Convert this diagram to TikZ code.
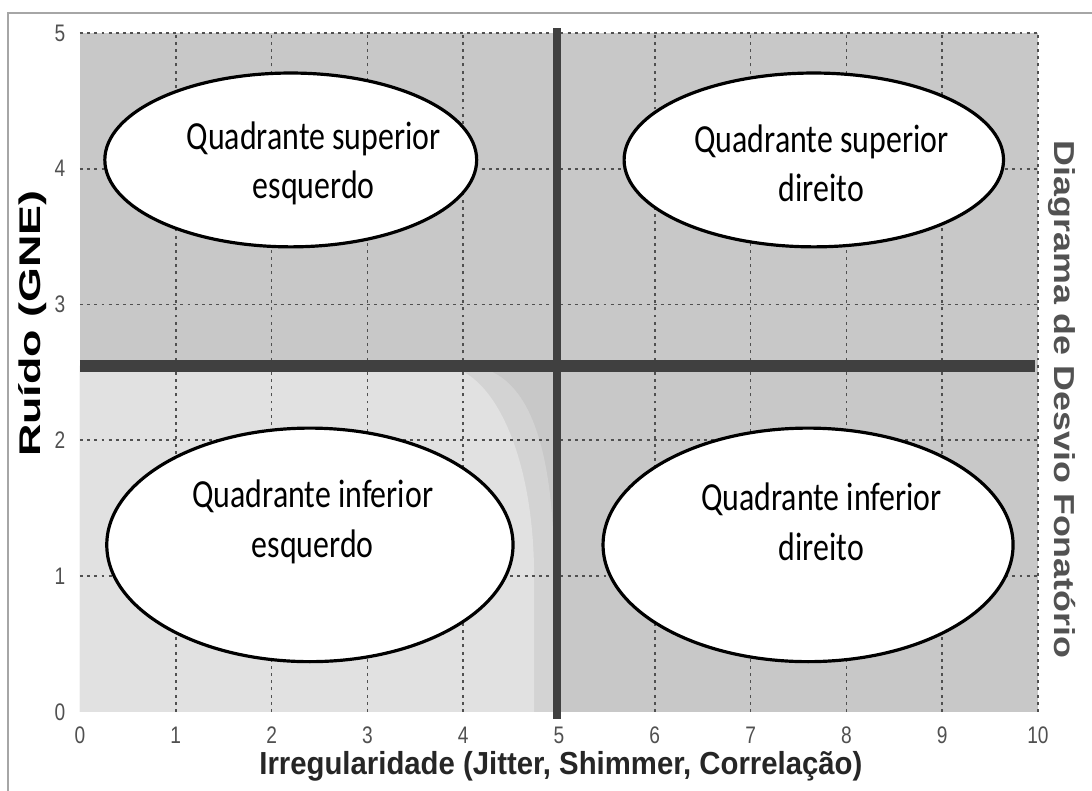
\documentclass[tikz,border=0pt]{standalone}
\usepackage{fontspec}
\setmainfont{Carlito}
\newfontfamily\quadfont[FakeStretch=0.8]{Carlito}
\newfontfamily\tickfont[FakeStretch=0.8]{Liberation Sans}
\newfontfamily\xlabfont[FakeStretch=0.92]{Liberation Sans}
\newfontfamily\ylabfont[FakeStretch=1.5]{Liberation Sans}
\newfontfamily\titfont[FakeStretch=1.24]{Liberation Sans}
\usepackage{tikz}
\usetikzlibrary{shapes.geometric}

\definecolor{fundo}{HTML}{C8C8C8}
\definecolor{faixa}{HTML}{D3D3D3}
\definecolor{claro}{HTML}{E1E1E1}
\definecolor{eixo}{HTML}{404040}
\definecolor{grade}{HTML}{505050}

\tikzset{
  quad/.style={draw=black, line width=2.4pt, fill=white, ellipse, inner sep=0pt},
  quadtxt/.style={font=\quadfont\fontsize{30}{37.5}\selectfont, align=center},
  ticklbl/.style={font=\tickfont\fontsize{18}{20}\selectfont, text=grade, inner sep=0pt},
  gradeline/.style={grade, line width=1.3pt, dash pattern=on 2.2pt off 3.2pt}
}

\begin{document}
\begin{tikzpicture}[x=2.535cm, y=3.593cm]
\useasboundingbox (-0.835,-0.582) rectangle (10.564,5.243);
\draw[gray!70, line width=1.5pt] (-0.752,-0.7) -- (-0.752,5.147) -- (10.7,5.147);

% fundo do diagrama
\fill[fundo] (0,0) rectangle (10,5);
\fill[faixa] (0,0) -- (0,2.55) -- (4.0,2.55) .. controls (4.6,2.55) and (4.95,2.1) .. (4.95,1.0) -- (4.95,0) -- cycle;
\fill[claro] (0,0) -- (0,2.55) -- (3.76,2.55) .. controls (4.3,2.55) and (4.74,1.9) .. (4.74,1.0) -- (4.74,0) -- cycle;

% grade
\foreach \i in {1,...,10} \draw[gradeline] (\i,0) -- (\i,5);
\foreach \j in {1,...,5} \draw[gradeline] (0,\j) -- (10,\j);

% eixos dos quadrantes
\draw[eixo, line width=9pt] (0,2.55) -- (9.97,2.55);
\draw[eixo, line width=6pt] (4.98,-0.05) -- (4.98,5.04);

% quadrantes
\node[quad, minimum width=9.84cm, minimum height=4.6cm] (qse) at (2.20,4.065) {};
\node[quad, minimum width=10.04cm, minimum height=4.6cm] (qsd) at (7.66,4.065) {};
\node[quad, minimum width=10.75cm, minimum height=6.18cm] (qie) at (2.40,1.23) {};
\node[quad, minimum width=10.85cm, minimum height=6.18cm] (qid) at (7.60,1.23) {};
\node[quadtxt] (tse) at (2.44,4.04) {Quadrante superior\\esquerdo};
\node[quadtxt] (tsd) at (7.74,4.04) {Quadrante superior\\direito};
\node[quadtxt] (tie) at (2.43,1.40) {Quadrante inferior\\esquerdo};
\node[quadtxt] (tid) at (7.74,1.40) {Quadrante inferior\\direito};

% escalas
\foreach \i in {0,...,10} \node[ticklbl] (x\i) at (\i,-0.17) {\i};
\foreach \j in {0,...,5} \node[ticklbl] (y\j) at (-0.21,\j) {\j};

% titulos
\node[font=\xlabfont\bfseries\fontsize{24}{28}\selectfont, text=black!85, inner sep=0pt] (xlab) at (5.02,-0.40) {Irregularidade (Jitter, Shimmer, Correlação)};
\node[font=\ylabfont\bfseries\fontsize{22.5}{26}\selectfont, rotate=90] (ylab) at (-0.49,2.86) {Ruído (GNE)};
\node[font=\titfont\bfseries\fontsize{21.75}{26}\selectfont, text=black!68, rotate=-90] (tit) at (10.25,2.30) {Diagrama de Desvio Fonatório};
\end{tikzpicture}
\end{document}
